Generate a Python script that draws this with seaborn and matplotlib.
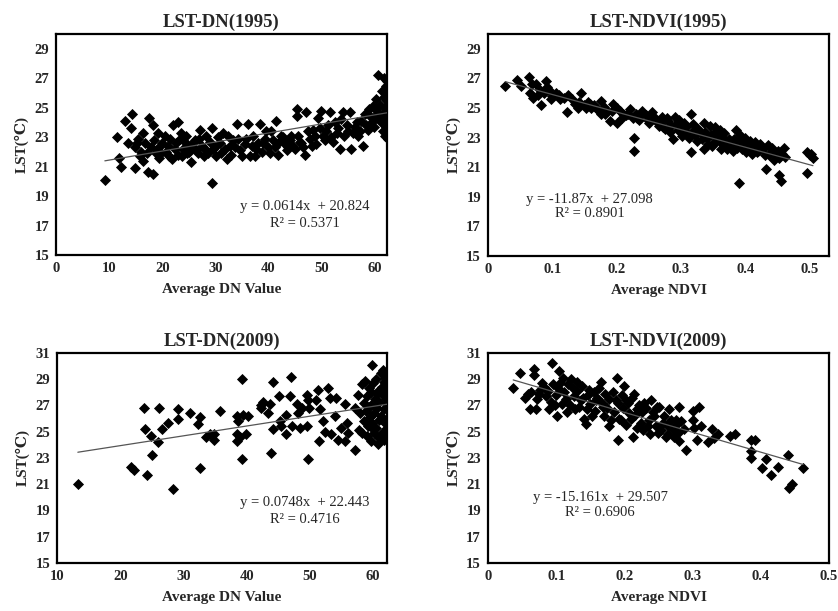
import numpy as np
import pandas as pd
import seaborn as sns
import matplotlib.pyplot as plt

# LST vs DN, 1995
dn95_x = [9.2, 11.5, 11.9, 12.2, 13.0, 14.4, 14.2, 13.6, 14.9, 15.2, 15.8, 16.4, 16.4, 17.4, 17.6, 18.2,
          18.3, 18.9, 19.2, 19.6, 19.8, 20.5, 21.1, 21.3, 22.1, 22.4, 23.0, 23.6, 23.9, 24.3, 24.6, 25.2,
          25.5, 26.1, 26.4, 27.1, 27.4, 27.8, 28.3, 29.3, 29.3, 29.6, 30.2, 30.8, 31.5, 32.1, 32.7, 33.4,
          34.0, 34.6, 35.5, 36.2, 36.5, 37.1, 37.7, 38.4, 39.0, 39.6, 40.2, 40.9, 41.5, 41.8, 42.4, 43.1,
          43.7, 44.3, 44.6, 45.3, 45.3, 45.9, 46.5, 46.8, 47.1, 47.5, 48.1, 48.7, 49.3, 49.9, 50.6, 51.2,
          51.5, 52.2, 52.8, 53.4, 53.7, 54.0, 54.7, 55.3, 55.6, 55.9, 56.6, 57.2, 57.8, 58.1, 58.4, 58.9,
          59.4, 59.7, 60.0, 60.3, 60.6,
          14.8, 15.5, 16.0, 16.8, 17.2, 17.9, 18.5, 19.0, 19.4, 20.0, 20.8, 21.5, 21.9, 22.6, 22.9, 23.3,
          23.8, 24.5, 25.0, 25.8, 26.7, 27.0, 28.0, 28.6, 28.9, 30.0, 30.5, 31.1, 31.8, 32.4, 33.0, 33.7,
          34.3, 35.0, 35.8, 36.8, 37.4, 38.0, 38.7, 39.3, 39.9, 40.5, 41.2, 42.0, 42.8, 43.4, 44.0, 45.0,
          45.6, 46.2, 47.8, 48.4, 49.0, 49.6, 50.2, 50.9, 51.8, 52.5, 53.1, 54.3, 55.0, 56.2, 56.9, 57.5,
          58.7, 59.1, 59.9, 60.5, 60.8,
          61.0, 61.2, 61.4, 61.5, 61.6, 61.7, 61.8, 61.9, 62.0, 62.0, 62.1, 62.2, 62.2, 62.3, 62.3, 62.4,
          62.4, 62.4, 62.5, 62.5, 62.5, 62.5, 62.6, 62.6, 62.6, 62.7, 62.7, 62.8, 62.8]
dn95_lst = [20.1, 23.0, 21.6, 21.0, 24.1, 24.6, 23.6, 22.6, 20.9, 22.6, 21.7, 21.4, 23.3, 20.6, 24.3, 20.5,
            23.8, 21.9, 23.3, 22.4, 21.9, 23.1, 22.4, 21.7, 23.8, 22.2, 24.0, 23.3, 22.2, 22.7, 21.9, 22.4,
            21.3, 22.8, 22.1, 23.5, 22.4, 21.7, 23.1, 23.6, 19.9, 22.2, 21.7, 22.6, 23.3, 21.5, 22.4, 22.8,
            23.9, 22.1, 22.5, 23.9, 21.7, 23.1, 22.2, 23.9, 22.6, 23.4, 21.9, 22.8, 24.1, 21.8, 23.1, 22.5,
            22.3, 23.1, 22.4, 24.9, 24.4, 22.7, 22.3, 21.8, 24.7, 23.4, 22.4, 23.1, 24.3, 24.8, 22.8, 23.8,
            24.7, 22.7, 23.3, 22.2, 24.2, 24.7, 23.8, 24.7, 22.2, 23.3, 24.0, 23.4, 22.4, 24.6, 23.8, 24.9,
            24.0, 25.1, 24.4, 25.6, 27.2,
            22.3, 22.9, 22.0, 22.6, 21.9, 22.3, 22.8, 22.1, 21.6, 22.6, 22.0, 22.9, 21.5, 22.6, 21.8, 22.9,
            21.7, 23.1, 22.0, 22.6, 21.9, 22.9, 22.2, 21.9, 22.7, 22.3, 23.0, 21.9, 22.2, 23.1, 21.8, 22.3,
            22.9, 21.7, 22.9, 22.4, 21.7, 22.6, 22.0, 22.9, 22.3, 23.4, 22.3, 22.7, 23.0, 22.1, 22.8, 22.2,
            23.1, 22.6, 22.9, 23.5, 22.5, 23.6, 23.1, 23.4, 23.0, 24.0, 23.6, 23.1, 23.4, 23.7, 23.1, 24.1,
            23.5, 24.4, 23.7, 24.8, 24.2,
            25.2, 24.0, 26.1, 23.4, 24.6, 25.7, 27.0, 23.1, 24.3, 25.0, 26.5, 23.7, 25.5, 24.8, 26.8, 23.3,
            24.1, 25.9, 26.3, 22.9, 24.6, 27.0, 23.6, 25.3, 26.6, 24.4, 25.8, 23.9, 26.1]

# LST vs NDVI, 1995
ndvi95_x = [0.027, 0.045, 0.052, 0.063, 0.065, 0.070, 0.075, 0.080, 0.083, 0.087, 0.090, 0.095, 0.100,
            0.105, 0.110, 0.118, 0.123, 0.130, 0.135, 0.140, 0.145, 0.150, 0.155, 0.160, 0.165, 0.170,
            0.175, 0.176, 0.180, 0.185, 0.190, 0.195, 0.200, 0.201, 0.205, 0.210, 0.215, 0.220, 0.225,
            0.227, 0.227, 0.230, 0.235, 0.240, 0.245, 0.250, 0.255, 0.260, 0.265, 0.270, 0.275, 0.280,
            0.285, 0.288, 0.290, 0.295, 0.300, 0.302, 0.305, 0.310, 0.315, 0.316, 0.320, 0.325, 0.330,
            0.335, 0.336, 0.340, 0.345, 0.350, 0.352, 0.355, 0.360, 0.362, 0.365, 0.370, 0.375, 0.380,
            0.385, 0.390, 0.390, 0.395, 0.400, 0.401, 0.405, 0.410, 0.415, 0.420, 0.425, 0.430, 0.432,
            0.435, 0.440, 0.445, 0.450, 0.452, 0.455, 0.460, 0.461, 0.495, 0.495, 0.500, 0.505, 0.502,
            0.268, 0.272, 0.278, 0.283, 0.292, 0.297, 0.303, 0.308, 0.312, 0.318, 0.322, 0.327, 0.332,
            0.338, 0.342, 0.347, 0.348, 0.353, 0.357, 0.363, 0.367, 0.372, 0.377, 0.382, 0.387, 0.392,
            0.397, 0.403, 0.407, 0.412, 0.418, 0.422, 0.428, 0.437, 0.442, 0.447, 0.452, 0.457,
            0.068, 0.078, 0.092, 0.098, 0.112, 0.125, 0.142, 0.152, 0.158, 0.168, 0.182, 0.193, 0.208,
            0.218, 0.232, 0.238, 0.248, 0.258]
ndvi95_lst = [26.5, 26.9, 26.5, 27.1, 26.0, 25.7, 26.6, 26.3, 25.2, 26.0, 26.8, 26.2, 25.8,
              26.0, 25.9, 25.7, 24.7, 25.6, 25.3, 25.0, 26.0, 25.2, 25.4, 25.0, 25.2, 24.9,
              25.5, 24.6, 25.1, 24.8, 24.1, 25.3, 25.0, 24.0, 24.8, 24.6, 24.5, 24.9, 24.3,
              23.0, 22.1, 24.6, 24.2, 24.8, 24.5, 24.0, 24.7, 24.2, 23.8, 24.4, 23.6, 24.1,
              23.8, 22.9, 24.4, 23.5, 23.7, 23.1, 24.0, 23.3, 24.6, 22.0, 23.5, 22.8, 23.4,
              24.0, 22.2, 23.0, 23.8, 22.6, 23.3, 22.8, 23.5, 22.2, 23.0, 22.5, 22.9, 22.1,
              23.5, 22.7, 19.9, 22.2, 23.0, 22.0, 22.5, 21.9, 22.7, 22.1, 22.4, 21.8, 20.9,
              22.5, 22.0, 21.5, 22.1, 20.5, 20.1, 22.3, 21.7, 22.0, 20.6, 21.8, 21.6, 21.9,
              24.0, 23.7, 24.3, 23.4, 23.9, 24.2, 23.4, 23.7, 23.0, 23.9, 23.2, 23.6, 22.9,
              23.4, 22.6, 23.2, 22.4, 23.7, 23.1, 22.6, 23.3, 22.2, 22.6, 22.9, 22.3, 23.2,
              22.6, 22.3, 22.8, 22.3, 22.0, 22.6, 22.2, 21.8, 22.3, 21.8, 21.6, 21.9,
              26.6, 25.9, 26.4, 25.6, 25.6, 25.9, 25.4, 25.0, 25.3, 25.0, 24.6, 24.8, 24.3,
              24.6, 24.3, 24.5, 24.2, 24.4]

# LST vs DN, 2009
dn09_x = [13.3, 21.7, 22.2, 23.8, 24.0, 24.2, 24.8, 25.0, 26.0, 26.2, 26.6, 27.6, 28.4, 29.1, 29.1,
          31.0, 32.3, 32.7, 32.7, 33.6, 34.2, 34.9, 34.9, 35.8, 39.2, 44.2, 47.0, 38.5, 39.4, 40.2,
          38.6, 38.4, 39.0, 39.9, 38.5, 39.2, 42.2, 42.6, 42.3, 43.7, 43.4, 44.1, 43.9, 45.1, 45.2,
          45.5, 46.3, 46.3, 46.8, 47.1, 47.9, 48.1, 48.7, 48.4, 49.6, 49.7, 49.9, 49.6, 49.7, 51.0,
          51.3, 51.6, 51.5, 52.1, 52.4, 52.9, 53.2, 53.4, 54.0, 54.2, 54.5, 55.0, 55.5, 55.5, 55.8,
          56.0, 57.1, 57.1,
          57.6, 57.8, 58.0, 58.2, 58.3, 58.5, 58.6, 58.8, 58.9, 59.0, 59.1, 59.2, 59.4, 59.5, 59.6,
          59.7, 59.8, 59.9, 60.0, 60.1, 60.2, 60.3, 60.4, 60.5, 60.6, 60.7, 60.8, 60.9, 61.0, 61.1,
          61.2, 61.3, 61.4, 61.5, 61.6, 61.7, 61.8, 61.9, 62.0, 62.1, 62.2, 62.3, 62.4, 59.3, 60.0,
          60.6, 61.2, 61.8, 62.2, 59.6, 60.9, 61.5, 62.0]
dn09_lst = [21.0, 22.3, 22.1, 26.8, 25.2, 21.7, 24.7, 23.25, 24.2, 26.8, 25.2, 25.7, 20.6, 26.75, 26.0,
            26.4, 25.6, 26.1, 22.2, 24.6, 24.8, 24.8, 24.4, 26.6, 29.0, 28.8, 29.2, 26.2, 26.3, 26.2,
            25.8, 24.8, 24.6, 24.8, 24.3, 22.9, 27.0, 27.3, 26.8, 27.1, 26.4, 25.2, 23.4, 27.7, 25.8,
            25.4, 26.3, 24.8, 27.7, 25.4, 27.1, 26.4, 26.8, 25.3, 27.8, 27.4, 26.8, 25.4, 22.9, 27.4,
            28.2, 26.7, 24.3, 25.8, 25.0, 28.3, 27.6, 24.8, 26.2, 27.6, 24.4, 25.3, 27.1, 24.3, 25.7,
            24.9, 23.6, 26.8,
            27.8, 25.1, 26.4, 28.6, 24.9, 27.2, 25.8, 28.9, 26.6, 24.7, 27.7, 25.4, 28.3, 26.1, 24.3,
            27.0, 25.7, 30.1, 28.7, 26.4, 24.9, 27.5, 25.3, 29.0, 26.8, 24.1, 28.1, 25.9, 27.3, 24.6,
            29.5, 26.2, 28.4, 25.0, 27.8, 24.4, 26.7, 29.1, 25.6, 28.0, 27.1, 24.8, 26.0, 26.9, 25.2,
            27.9, 26.0, 28.8, 25.3, 28.0, 24.5, 29.7, 27.5]

# LST vs NDVI, 2009
ndvi09_x = [0.037, 0.047, 0.058, 0.061, 0.070, 0.067, 0.067, 0.077, 0.079, 0.092, 0.094, 0.089, 0.101,
            0.104, 0.106, 0.116, 0.124, 0.131, 0.128, 0.136, 0.141, 0.143, 0.146, 0.153, 0.158, 0.165,
            0.168, 0.177, 0.190, 0.189, 0.190, 0.195, 0.200, 0.202, 0.207, 0.212, 0.214, 0.219, 0.224,
            0.229, 0.234, 0.239, 0.244, 0.249, 0.251, 0.256, 0.261, 0.266, 0.271, 0.275, 0.280, 0.280,
            0.288, 0.290, 0.302, 0.300, 0.307, 0.300, 0.310, 0.313, 0.322, 0.328, 0.332, 0.337, 0.355,
            0.362, 0.386, 0.392, 0.386, 0.386, 0.401, 0.407, 0.415, 0.425, 0.440, 0.441, 0.445, 0.462,
            0.055, 0.063, 0.072, 0.075, 0.082, 0.085, 0.088, 0.095, 0.098, 0.100, 0.103, 0.108, 0.110,
            0.112, 0.115, 0.118, 0.120, 0.122, 0.126, 0.130, 0.133, 0.138, 0.140, 0.145, 0.148, 0.150,
            0.155, 0.157, 0.160, 0.163, 0.167, 0.170, 0.172, 0.175, 0.178, 0.180, 0.183, 0.185, 0.188,
            0.192, 0.196, 0.198, 0.203, 0.205, 0.209, 0.211, 0.216, 0.218, 0.221, 0.226, 0.228, 0.232,
            0.236, 0.238, 0.242, 0.246, 0.248, 0.253, 0.258, 0.262, 0.264, 0.268, 0.272, 0.276, 0.278,
            0.283]
ndvi09_lst = [28.3, 29.5, 27.9, 26.7, 26.7, 29.8, 29.3, 28.2, 28.7, 27.3, 30.2, 26.7, 26.2,
              29.6, 28.7, 26.5, 28.3, 28.8, 26.7, 27.4, 26.0, 25.6, 27.8, 26.2, 27.4, 28.8,
              26.9, 25.4, 24.4, 29.1, 27.2, 25.9, 28.5, 27.4, 26.4, 24.6, 27.9, 26.7, 25.7,
              27.2, 25.4, 27.4, 26.2, 24.9, 26.9, 25.7, 24.6, 26.7, 25.2, 25.9, 26.9, 24.3,
              25.2, 23.6, 25.3, 26.6, 24.4, 25.9, 26.9, 25.4, 24.2, 25.2, 24.5, 24.8, 24.7,
              24.8, 24.4, 24.4, 23.5, 23.0, 22.2, 22.9, 21.7, 22.3, 23.2, 20.7, 21.0, 22.2,
              27.6, 28.0, 27.5, 27.9, 28.4, 27.7, 28.1, 28.6, 27.0, 27.8, 28.3, 27.1, 29.1,
              28.0, 27.5, 28.6, 27.0, 29.0, 27.7, 28.1, 26.9, 28.5, 27.6, 26.7, 28.2, 27.1,
              28.0, 26.6, 27.6, 28.3, 27.2, 26.2, 27.9, 26.8, 27.5, 25.9, 28.0, 26.5, 27.4,
              26.0, 27.8, 26.8, 25.5, 27.2, 26.0, 27.6, 26.3, 25.3, 27.0, 26.5, 25.1, 26.8,
              25.9, 24.8, 26.5, 25.4, 26.9, 25.1, 26.2, 25.5, 24.8, 25.9, 24.6, 25.5, 24.9,
              25.8]

titles = ["LST-DN(1995)", "LST-NDVI(1995)", "LST-DN(2009)", "LST-NDVI(2009)"]
xlabels = ["Average DN Value", "Average NDVI", "Average DN Value", "Average NDVI"]
slopes = [0.0614, -11.87, 0.0748, -15.161]
intercepts = [20.824, 27.098, 22.443, 29.507]
r2_values = ["0.5371", "0.8901", "0.4716", "0.6906"]

sns.set_style("white")
plt.rcParams['font.family'] = ['Liberation Serif', 'DejaVu Serif']

fig = plt.figure(figsize=(8.38, 6.11), dpi=100)
axes = [
    fig.add_axes([0.0668, 0.5827, 0.3950, 0.3617]),
    fig.add_axes([0.5823, 0.5810, 0.4070, 0.3634]),
    fig.add_axes([0.0680, 0.0786, 0.3938, 0.3437]),
    fig.add_axes([0.5823, 0.0786, 0.4070, 0.3437]),
]

data = [(dn95_x, dn95_lst), (ndvi95_x, ndvi95_lst), (dn09_x, dn09_lst), (ndvi09_x, ndvi09_lst)]
xlims = [(0, 62.3), (0, 0.53), (10, 62.2), (0, 0.5)]
xticks = [np.arange(0, 61, 10), np.arange(0, 0.51, 0.1), np.arange(10, 61, 10), np.arange(0, 0.51, 0.1)]
xfmt = ["{:.0f}", "{:.1f}", "{:.0f}", "{:.1f}"]
ylims = [(15, 30), (15, 30), (15, 31), (15, 31)]
text_pos = [(0.753, 0.219, 0.144), (0.298, 0.253, 0.192), (0.752, 0.286, 0.206), (0.329, 0.31, 0.238)]

for i, ax in enumerate(axes):
    x, y = data[i]
    df = pd.DataFrame({"x": x, "lst": y})
    sns.scatterplot(data=df, x="x", y="lst", ax=ax, marker="D", color="black",
                    s=32, linewidth=0, zorder=3)
    # trend line across the range of the data
    xl = np.array([df["x"].min(), df["x"].max()])
    ax.plot(xl, slopes[i] * xl + intercepts[i], color="#555555", lw=0.9, zorder=4)

    ax.set_xlim(*xlims[i])
    ax.set_ylim(*ylims[i])
    ax.set_xticks(xticks[i])
    ax.set_xticklabels([xfmt[i].format(v) if v != 0 else "0" for v in xticks[i]])
    ax.set_yticks(np.arange(ylims[i][0], ylims[i][1] + 0.1, 2))
    ax.tick_params(direction="in", length=4, width=1, labelsize=10.5, pad=5)
    for lab in ax.get_xticklabels() + ax.get_yticklabels():
        lab.set_fontweight("bold")
    for sp in ax.spines.values():
        sp.set_visible(True)
        sp.set_linewidth(1.6)
        sp.set_color("black")

    ax.set_title(titles[i], fontsize=13.5, fontweight="bold", pad=5)
    ax.set_xlabel(xlabels[i], fontsize=11, fontweight="bold", labelpad=6)
    ax.set_ylabel("LST(℃)", fontsize=11, fontweight="bold", labelpad=4)

    tx, ty1, ty2 = text_pos[i]
    ax.text(tx, ty1, f"y = {slopes[i]}x  + {intercepts[i]}", transform=ax.transAxes,
            ha="center", va="center", fontsize=10.5)
    ax.text(tx, ty2, f"R² = {r2_values[i]}", transform=ax.transAxes,
            ha="center", va="center", fontsize=10.5)

fig.savefig("out.png", dpi=100)
